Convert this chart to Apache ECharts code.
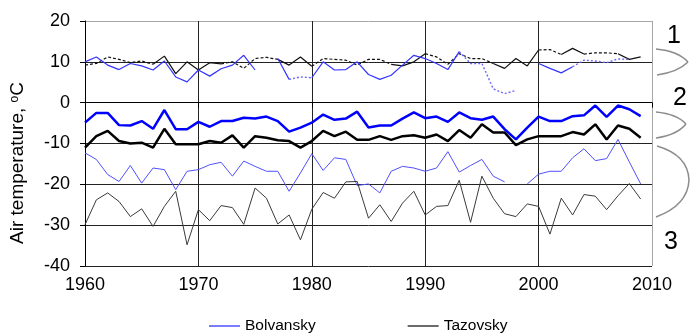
<!DOCTYPE html>
<html>
<head>
<meta charset="utf-8">
<script src="https://cdn.jsdelivr.net/npm/echarts@6/dist/echarts.min.js"></script>
<style>
  html, body { margin: 0; padding: 0; background: #fff; }
  #main { width: 691px; height: 333px; }
</style>
</head>
<body>
<div id="main"></div>
<script>
  // years 1960..2009
  var years = [];
  for (var y = 1960; y <= 2009; y++) years.push(y);

  // summer (1)
  var bolvSummer = [10.0, 11.2, 9.2, 8.1, 9.6, 9.0, 8.0, 10.2, 6.3, 5.1,
                    8.0, 6.5, 8.3, 9.2, 11.6, 8.0, null, 10.8, 5.7, 6.3,
                    6.1, 10.0, 8.0, 8.1, 10.0, 6.9, 5.7, 6.7, 9.2, 11.6,
                    10.8, 9.6, 8.1, 12.5, 9.6, 9.6, 3.4, 2.2, 3.0, null,
                    9.6, 8.4, 7.3, 8.8, 10.4, 10.2, 9.8, 10.7, 10.6, null];
  var tazSummer = [9.2, 9.6, 11.2, 10.6, 9.8, 10.2, 9.4, 11.4, 7.1, 10.0,
                   8.0, 9.8, 9.5, 10.0, 8.4, 10.8, 11.1, 10.6, 9.2, 11.2,
                   8.9, 10.8, 10.6, 10.4, 9.2, 10.6, 10.6, 9.4, 9.0, 10.0,
                   12.0, 11.2, 9.4, 12.0, 10.8, 10.8, 9.6, 8.4, 10.8, 9.0,
                   12.9, 13.0, 11.8, 13.3, 11.9, 12.2, 12.2, 12.0, 10.6, 11.2];
  // annual mean (2)
  var bolvAnnual = [-4.9, -2.5, -2.5, -5.5, -5.6, -4.5, -6.4, -1.8, -6.5, -6.5,
                    -4.7, -5.9, -4.5, -4.5, -3.7, -3.9, -3.4, -4.5, -7.1, -6.1,
                    -4.9, -2.9, -4.2, -3.9, -2.2, -6.1, -5.6, -5.6, -3.9, -2.4,
                    -3.8, -3.4, -4.7, -2.4, -3.8, -4.2, -3.4, -6.5, -9.0, -6.1,
                    -3.4, -4.5, -4.5, -3.3, -3.1, -0.7, -3.5, -0.7, -1.6, -3.3];
  var tazAnnual = [-11.0, -8.2, -6.9, -9.4, -10.0, -9.8, -11.0, -6.4, -10.2, -10.2,
                   -10.2, -9.4, -9.8, -8.0, -11.0, -8.2, -8.6, -9.2, -9.4, -11.0,
                   -9.4, -6.9, -8.2, -7.1, -9.1, -9.1, -8.2, -9.1, -8.2, -8.0,
                   -8.6, -7.8, -9.4, -6.7, -8.6, -5.3, -7.3, -7.3, -10.4, -9.0,
                   -8.2, -8.2, -8.2, -7.2, -7.8, -5.3, -9.0, -5.6, -6.4, -8.6];
  // winter (3)
  var bolvWinter = [-12.3, -13.9, -17.6, -19.3, -15.4, -19.7, -16.0, -16.4, -21.3, -16.8,
                    -16.4, -15.2, -14.6, -18.0, -14.3, -15.6, -16.8, -16.8, -21.7, -17.2,
                    -12.5, -16.6, -13.5, -13.9, -20.3, -19.9, -22.1, -16.8, -15.6, -16.0,
                    -16.8, -16.0, -12.0, -17.0, -15.4, -13.9, -18.0, -19.4, null, -19.9,
                    -17.5, -16.8, -16.8, -13.5, -11.3, -14.2, -13.7, -9.0, -14.5, -19.9];
  var tazWinter = [-29.9, -23.8, -22.1, -24.2, -27.9, -26.0, -30.3, -25.4, -21.7, -34.8,
                   -26.2, -28.9, -25.2, -25.7, -29.8, -20.9, -23.4, -29.7, -27.5, -33.6,
                   -26.1, -22.0, -23.4, -19.4, -19.3, -28.3, -25.0, -29.1, -24.6, -21.7,
                   -27.5, -25.4, -25.2, -19.0, -29.3, -18.0, -23.4, -27.2, -27.9, -24.8,
                   -25.4, -32.2, -23.4, -27.5, -22.5, -22.9, -26.2, -22.8, -19.8, -23.6];

  // year spans of the summer curves drawn solid / dotted
  var tazSolidSpans = [[1966, 1972], [1977, 1980], [1987, 1990], [1996, 2000], [2002, 2004], [2007, 2009]];
  var bolvSolidSpans = [[1960, 1978], [1980, 1993], [2000, 2003]];

  function pairs(vals) {
      return years.map(function (yr, i) { return [yr, vals[i]]; });
  }

  // points of the given spans only, with a break after each span
  function spanPairs(vals, spans) {
      var out = [];
      spans.forEach(function (s) {
          for (var yr = s[0]; yr <= s[1]; yr++) out.push([yr, vals[yr - 1960]]);
          out.push([s[1], null]);
      });
      return out;
  }

  function gaps(spans) {
      var out = [], from = 1960;
      spans.forEach(function (s) {
          if (s[0] > from) out.push([from, s[0]]);
          from = s[1];
      });
      if (from < 2009) out.push([from, 2009]);
      return out;
  }

  function line(name, data, color, width, type) {
      return {
          name: name,
          type: 'line',
          data: data,
          showSymbol: false,
          symbol: 'none',
          connectNulls: false,
          silent: true,
          lineStyle: { color: color, width: width, type: type || 'solid' },
          itemStyle: { color: color }
      };
  }

  var myChart = echarts.init(document.getElementById('main'));

  var font = 'Liberation Sans, Arial, sans-serif';
  var braceStyle = { stroke: '#8c8c8c', lineWidth: 1.5, fill: null };

  option = {
      animation: false,
      textStyle: { fontFamily: font },
      grid: { left: 85, right: 39, top: 21, bottom: 67 },
      legend: {
          data: ['Bolvansky', 'Tazovsky'],
          left: 204,
          top: 313,
          icon: 'rect',
          itemWidth: 31,
          itemHeight: 1.5,
          itemGap: 92,
          textStyle: { color: '#000', fontSize: 15.5, fontFamily: font }
      },
      xAxis: {
          type: 'value',
          min: 1960,
          max: 2010,
          interval: 10,
          axisLine: { lineStyle: { color: '#000', width: 1 } },
          axisTick: { show: true, length: 5, lineStyle: { color: '#000' } },
          axisLabel: { color: '#000', fontSize: 18, margin: 10, fontFamily: font, formatter: function (v) { return String(v); } },
          splitLine: { show: true, lineStyle: { color: ['#222', '#222', '#222', '#222', '#222', '#a6a6a6'], width: 1 } }
      },
      yAxis: {
          type: 'value',
          min: -40,
          max: 20,
          interval: 10,
          axisLine: { show: true, lineStyle: { color: '#000', width: 1 } },
          axisTick: { show: true, length: 5, lineStyle: { color: '#000' } },
          axisLabel: { color: '#000', fontSize: 18, margin: 15, fontFamily: font },
          splitLine: { show: true, lineStyle: { color: ['#222', '#222', '#222', '#222', '#222', '#222', '#a6a6a6'], width: 1 } }
      },
      graphic: [
          {
              type: 'text', x: 18, y: 163, rotation: Math.PI / 2,
              style: {
                  text: '{t|Air temperature, }{s|o}{t|C}',
                  align: 'center', verticalAlign: 'middle',
                  rich: {
                      t: { fontSize: 19, fill: '#000', fontFamily: font },
                      s: { fontSize: 12, fill: '#000', fontFamily: font, verticalAlign: 'top' }
                  }
              }
          },
          { type: 'bezierCurve', shape: { x1: 656, y1: 49, cpx1: 678, cpy1: 51, x2: 688, y2: 62 }, style: braceStyle },
          { type: 'bezierCurve', shape: { x1: 688, y1: 62, cpx1: 678, cpy1: 72, x2: 657, y2: 75 }, style: braceStyle },
          { type: 'bezierCurve', shape: { x1: 656, y1: 112, cpx1: 677, cpy1: 114, x2: 686, y2: 124 }, style: braceStyle },
          { type: 'bezierCurve', shape: { x1: 686, y1: 124, cpx1: 677, cpy1: 135, x2: 656, y2: 138 }, style: braceStyle },
          { type: 'bezierCurve', shape: { x1: 657, y1: 146, cpx1: 688, cpy1: 155, x2: 689, y2: 180 }, style: braceStyle },
          { type: 'bezierCurve', shape: { x1: 689, y1: 180, cpx1: 688, cpy1: 205, x2: 656, y2: 217 }, style: braceStyle },
          { type: 'text', left: 667, top: 24, style: { text: '1', fontSize: 25, fill: '#000', fontFamily: font } },
          { type: 'text', left: 673, top: 86, style: { text: '2', fontSize: 25, fill: '#000', fontFamily: font } },
          { type: 'text', left: 664, top: 230, style: { text: '3', fontSize: 25, fill: '#000', fontFamily: font } }
      ],
      series: [
          line('Bolvansky', pairs(bolvWinter), '#4f4fff', 1),
          line('Tazovsky', pairs(tazWinter), '#3a3a3a', 1),
          line('Bolvansky annual', pairs(bolvAnnual), '#0000ff', 2.5),
          line('Tazovsky annual', pairs(tazAnnual), '#000000', 2.5),
          line('Tazovsky summer dotted', spanPairs(tazSummer, gaps(tazSolidSpans)), '#111111', 1.2, [3, 2]),
          line('Tazovsky summer', spanPairs(tazSummer, tazSolidSpans), '#111111', 1.2),
          line('Bolvansky summer dotted', spanPairs(bolvSummer, gaps(bolvSolidSpans)), '#6a6aff', 1.4, [2, 2]),
          line('Bolvansky summer', spanPairs(bolvSummer, bolvSolidSpans), '#3535ff', 1.2)
      ]
  };

  myChart.setOption(option);
</script>
</body>
</html>
